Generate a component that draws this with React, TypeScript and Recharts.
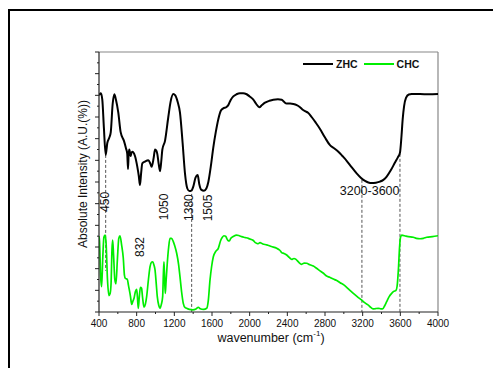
import React from 'react';
import { LineChart, Line, XAxis, YAxis, ReferenceLine, ReferenceDot, Legend } from 'recharts';

// ZHC spectrum (wavenumber, absolute intensity in arbitrary units)
const zhcWavenumber = [400, 420, 435, 452, 471, 488, 510, 525, 545, 563, 580, 605, 630, 665, 687, 700, 708, 715, 722, 736, 745, 754, 782, 807, 822, 835, 847, 860, 888, 924, 945, 959, 980, 995, 1008, 1019, 1035, 1048, 1060, 1073, 1101, 1136, 1160, 1189, 1210, 1235, 1260, 1288, 1313, 1338, 1360, 1380, 1402, 1425, 1448, 1465, 1485, 1515, 1540, 1561, 1590, 1614, 1640, 1667, 1695, 1720, 1750, 1773, 1800, 1826, 1860, 1897, 1930, 1968, 2000, 2039, 2070, 2103, 2130, 2163, 2210, 2251, 2300, 2340, 2365, 2393, 2430, 2464, 2500, 2535, 2560, 2588, 2620, 2658, 2700, 2747, 2800, 2853, 2900, 2942, 2985, 3030, 3080, 3136, 3180, 3225, 3260, 3296, 3340, 3384, 3420, 3455, 3500, 3543, 3575, 3596, 3612, 3625, 3640, 3660, 3690, 3720, 3809, 3900, 4000];
const zhcIntensity = [10.0, 10.1, 9.8, 8.5, 7.25, 7.8, 8.05, 8.3, 9.6, 10.05, 9.8, 9.2, 8.3, 7.9, 7.55, 7.3, 6.6, 7.3, 7.5, 7.2, 7.35, 7.4, 7.2, 6.7, 6.3, 5.86, 6.4, 6.86, 6.94, 7.0, 6.85, 6.7, 7.1, 7.5, 7.45, 7.3, 6.8, 6.5, 6.9, 7.5, 7.9, 9.0, 9.7, 10.06, 10.0, 9.7, 9.2, 7.8, 6.4, 5.7, 5.58, 5.6, 5.8, 6.2, 6.32, 5.9, 5.65, 5.6, 5.7, 6.0, 6.8, 7.6, 8.3, 8.9, 9.3, 9.4, 9.45, 9.55, 9.8, 9.95, 10.05, 10.1, 10.1, 10.05, 9.95, 9.8, 9.6, 9.45, 9.55, 9.66, 9.75, 9.8, 9.82, 9.8, 9.7, 9.62, 9.62, 9.6, 9.55, 9.45, 9.35, 9.27, 9.2, 9.0, 8.75, 8.45, 8.05, 7.7, 7.55, 7.4, 7.2, 6.98, 6.7, 6.4, 6.2, 6.05, 5.98, 5.95, 5.97, 6.02, 6.1, 6.25, 6.55, 6.9, 7.15, 7.35, 8.1, 8.9, 9.5, 9.88, 10.04, 10.06, 10.06, 10.05, 10.06];

// CHC spectrum
const chcWavenumber = [400, 405, 418, 428, 440, 452, 464, 475, 490, 505, 518, 528, 538, 545, 555, 568, 580, 595, 610, 623, 640, 658, 670, 680, 701, 712, 722, 735, 747, 760, 772, 787, 800, 808, 817, 828, 840, 852, 862, 878, 892, 906, 925, 942, 958, 970, 985, 995, 1008, 1019, 1035, 1048, 1062, 1076, 1084, 1090, 1097, 1104, 1112, 1125, 1140, 1154, 1170, 1189, 1205, 1225, 1245, 1260, 1278, 1295, 1315, 1331, 1360, 1395, 1430, 1455, 1475, 1510, 1544, 1560, 1579, 1596, 1614, 1640, 1667, 1692, 1710, 1727, 1745, 1756, 1770, 1784, 1800, 1830, 1862, 1890, 1915, 1950, 1986, 2010, 2039, 2060, 2075, 2090, 2110, 2140, 2181, 2230, 2287, 2320, 2340, 2365, 2393, 2420, 2446, 2470, 2492, 2520, 2552, 2580, 2605, 2640, 2676, 2710, 2747, 2780, 2818, 2850, 2889, 2925, 2960, 3000, 3030, 3065, 3101, 3145, 3190, 3225, 3260, 3290, 3313, 3340, 3366, 3390, 3412, 3435, 3455, 3480, 3508, 3530, 3554, 3566, 3580, 3592, 3602, 3615, 3660, 3685, 3738, 3770, 3809, 3845, 3880, 3940, 4000];
const chcIntensity = [3.5, 3.3, 1.6, 1.17, 2.5, 3.45, 3.55, 3.2, 1.5, 0.76, 0.85, 1.3, 2.9, 3.32, 2.6, 1.5, 1.3, 2.4, 3.4, 3.52, 3.1, 2.48, 1.7, 1.55, 1.51, 1.25, 1.02, 0.7, 0.35, 0.5, 0.63, 0.95, 1.05, 0.7, 0.17, 0.7, 1.14, 1.1, 0.7, 0.22, 0.35, 0.71, 1.5, 2.09, 2.3, 2.32, 2.15, 1.94, 1.3, 0.71, 0.3, 0.17, 0.35, 0.71, 1.8, 2.32, 1.5, 0.86, 1.4, 2.25, 3.0, 3.4, 3.4, 3.25, 3.05, 2.71, 2.2, 1.63, 0.9, 0.4, 0.2, 0.17, 0.12, 0.1, 0.14, 0.22, 0.15, 0.12, 0.17, 0.5, 1.48, 2.1, 2.55, 2.8, 2.94, 3.3, 3.45, 3.52, 3.5, 3.4, 3.3, 3.28, 3.4, 3.5, 3.55, 3.52, 3.48, 3.44, 3.4, 3.36, 3.3, 3.2, 3.17, 3.15, 3.2, 3.14, 3.1, 3.02, 2.94, 2.85, 2.74, 2.7, 2.63, 2.52, 2.43, 2.47, 2.43, 2.3, 2.2, 2.26, 2.25, 2.18, 2.12, 2.02, 1.9, 1.8, 1.66, 1.6, 1.52, 1.45, 1.35, 1.25, 1.14, 1.0, 0.86, 0.7, 0.55, 0.42, 0.32, 0.2, 0.14, 0.16, 0.17, 0.15, 0.14, 0.3, 0.48, 0.7, 0.86, 0.95, 1.0, 1.2, 2.0, 3.0, 3.45, 3.55, 3.5, 3.48, 3.45, 3.4, 3.38, 3.4, 3.45, 3.48, 3.52];

const seriesNames = ['ZHC', 'CHC'];
const seriesColors = ['#000000', '#00ee00'];

const xTicks = [400, 600, 800, 1000, 1200, 1400, 1600, 1800, 2000, 2200, 2400, 2600, 2800, 3000, 3200, 3400, 3600, 3800, 4000];
const yTicks = [0, 0.5, 1, 1.5, 2, 2.5, 3, 3.5, 4, 4.5, 5, 5.5, 6, 6.5, 7, 7.5, 8, 8.5, 9, 9.5, 10, 10.5, 11, 11.5, 12];

// Dashed marker lines
const markerWavenumber = [471, 1384, 3192, 3596];
const markerTop = [7.25, 5.45, 6.1, 7.3];
const markerBottom = [1.9, 0, 0, 0];

// Peak annotations
const peakText = ['450', '832', '1050', '1380', '1505'];
const peakWavenumber = [469, 835, 1090, 1359, 1561];
const peakLevel = [5.08, 3.0, 4.85, 4.82, 4.8];
const bandText = '3200-3600';
const bandWavenumber = 3274;
const bandLevel = 5.6;

const zhcData = zhcWavenumber.map((x, i) => ({ x, y: zhcIntensity[i] }));
const chcData = chcWavenumber.map((x, i) => ({ x, y: chcIntensity[i] }));

const FONT = '"Liberation Sans", Arial, sans-serif';

const XTick = (props: any) => {
  const { x, y, payload } = props;
  const major = payload.value % 400 === 0;
  return (
    <g>
      <line x1={x} x2={x} y1={y} y2={y + (major ? 4 : 2)} stroke="#222" strokeWidth={1} />
      {major && (
        <text x={x} y={y + 15} textAnchor="middle" fontSize={10} fill="#111" fontFamily={FONT}>
          {payload.value}
        </text>
      )}
    </g>
  );
};

const YTick = (props: any) => {
  const { x, y, payload } = props;
  const major = Number.isInteger(payload.value);
  return <line x1={x - (major ? 4 : 2)} x2={x} y1={y} y2={y} stroke="#222" strokeWidth={1} />;
};

const RotLabel = (props: any) => {
  const { viewBox, text } = props;
  const cx = viewBox.x + (viewBox.width || 0) / 2;
  const cy = viewBox.y + (viewBox.height || 0) / 2;
  return (
    <text
      x={cx}
      y={cy}
      transform={`rotate(-90 ${cx} ${cy})`}
      textAnchor="middle"
      dominantBaseline="central"
      fontSize={12}
      fill="#111"
      fontFamily={FONT}
    >
      {text}
    </text>
  );
};

const FlatLabel = (props: any) => {
  const { viewBox, text } = props;
  const cx = viewBox.x + (viewBox.width || 0) / 2;
  const cy = viewBox.y + (viewBox.height || 0) / 2;
  return (
    <text x={cx} y={cy} textAnchor="middle" dominantBaseline="central" fontSize={12.5} fill="#111" fontFamily={FONT}>
      {text}
    </text>
  );
};

const LegendContent = () => (
  <div style={{ display: 'flex', alignItems: 'center', fontFamily: FONT, fontWeight: 'bold', fontSize: 10.5, color: '#111' }}>
    {seriesNames.map((n, i) => (
      <span key={n} style={{ display: 'flex', alignItems: 'center', marginRight: 6 }}>
        <span style={{ display: 'inline-block', width: 30, height: 0, borderTop: `2px solid ${seriesColors[i]}`, marginRight: 3 }} />
        {n}
      </span>
    ))}
  </div>
);

export default function App() {
  return (
    <div style={{ position: 'relative', width: 493, height: 360, overflow: 'hidden', fontFamily: FONT }}>
      <div
        style={{
          position: 'absolute',
          left: 0,
          top: 1,
          width: 600,
          height: 500,
          borderLeft: '2px solid #000',
          borderTop: '2px solid #000',
          boxSizing: 'border-box',
        }}
      />
      <div style={{ position: 'absolute', left: 0, top: 0 }}>
        <LineChart width={493} height={360} margin={{ top: 44, right: 63, bottom: 26, left: 61 }}>
          <XAxis
            type="number"
            dataKey="x"
            domain={[400, 4000]}
            ticks={xTicks}
            interval={0}
            allowDataOverflow
            tickSize={0}
            tickMargin={0}
            tickLine={false}
            height={30}
            axisLine={{ stroke: '#222', strokeWidth: 1.2 }}
            tick={<XTick />}
          />
          <YAxis
            type="number"
            dataKey="y"
            domain={[0, 12]}
            ticks={yTicks}
            interval={0}
            allowDataOverflow
            tickSize={0}
            tickMargin={0}
            tickLine={false}
            width={30}
            axisLine={{ stroke: '#222', strokeWidth: 1.2 }}
            tick={<YTick />}
          />
          <ReferenceLine y={12} stroke="#888" strokeWidth={1.2} />
          <ReferenceLine x={4000} stroke="#888" strokeWidth={1.2} />
          {markerWavenumber.map((w, i) => (
            <ReferenceLine
              key={`m${i}`}
              segment={[
                { x: w, y: markerTop[i] },
                { x: w, y: markerBottom[i] },
              ]}
              stroke="#555"
              strokeWidth={1}
              strokeDasharray="3 2"
            />
          ))}
          <Line
            data={zhcData}
            dataKey="y"
            name={seriesNames[0]}
            type="monotone"
            stroke={seriesColors[0]}
            strokeWidth={2}
            dot={false}
            activeDot={false}
            isAnimationActive={false}
          />
          <Line
            data={chcData}
            dataKey="y"
            name={seriesNames[1]}
            type="monotone"
            stroke={seriesColors[1]}
            strokeWidth={1.7}
            dot={false}
            activeDot={false}
            isAnimationActive={false}
          />
          {peakText.map((t, i) => (
            <ReferenceDot
              key={`p${i}`}
              x={peakWavenumber[i]}
              y={peakLevel[i]}
              r={0}
              fill="none"
              stroke="none"
              label={<RotLabel text={t} />}
            />
          ))}
          <ReferenceDot x={bandWavenumber} y={bandLevel} r={0} fill="none" stroke="none" label={<FlatLabel text={bandText} />} />
          <Legend
            layout="horizontal"
            verticalAlign="middle"
            align="center"
            content={<LegendContent />}
            wrapperStyle={{ position: 'absolute', left: 295, top: 50, width: 140 }}
          />
        </LineChart>
      </div>
      <svg width={493} height={360} style={{ position: 'absolute', left: 0, top: 0, pointerEvents: 'none' }}>
        <text
          x={75}
          y={166}
          transform="rotate(-90 75 166)"
          textAnchor="middle"
          dominantBaseline="central"
          fontSize={12}
          fill="#111"
          fontFamily={FONT}
        >
          Absolute Intensity (A.U.(%))
        </text>
        <text x={263} y={334} textAnchor="middle" fontSize={12.5} fill="#111" fontFamily={FONT}>
          wavenumber (cm
          <tspan fontSize={8} dy={-6}>-1</tspan>
          <tspan dy={6}>)</tspan>
        </text>
      </svg>
    </div>
  );
}
